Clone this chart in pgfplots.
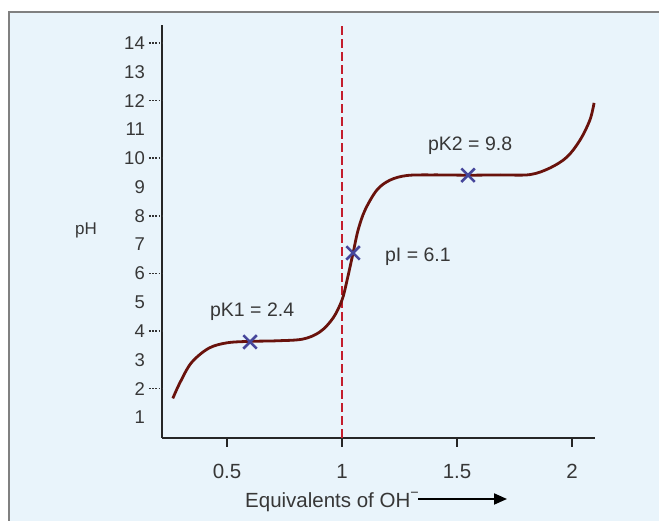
\documentclass[border=0pt]{standalone}
\usepackage{pgfplots}
\pgfplotsset{compat=1.18}
\usepackage{fontspec}
\setmainfont{Liberation Sans}
\usetikzlibrary{arrows.meta}

\definecolor{bgblue}{RGB}{233,244,251}
\definecolor{curvecol}{RGB}{105,18,12}
\definecolor{eqcol}{RGB}{196,30,45}
\definecolor{markcol}{RGB}{70,70,155}
\definecolor{txt}{RGB}{55,55,55}

\begin{document}
\begin{tikzpicture}
  % frame and background (1px = 1pt, axis corner at origin)
  \path[use as bounding box] (-162pt,-83pt) rectangle (497pt,438pt);
  \fill[bgblue] (-153pt,-83pt) rectangle (497pt,426pt);
  \draw[gray, line width=2pt] (-153pt,-83pt) -- (-153pt,426pt) -- (497pt,426pt);

  \begin{axis}[
      at={(0pt,0pt)}, anchor=south west,
      scale only axis,
      width=433pt, height=413pt,
      xmin=0.217, xmax=2.1,
      ymin=0.285, ymax=14.625,
      axis x line=bottom, axis y line=left,
      axis line style={-, line width=1.8pt, black!85},
      clip=false,
      /pgf/number format/assume math mode=true,
      xtick={0.5,1,1.5,2},
      xtick align=outside,
      x tick style={black!85, line width=1.8pt},
      major tick length=9pt,
      xticklabel style={font=\fontsize{20.5}{24}\selectfont, text=txt, anchor=base, yshift=-32pt},
      ytick={1,...,14},
      ytick align=inside,
      y tick style={draw=none},
      yticklabel style={font=\fontsize{18.5}{22}\selectfont, text=txt, anchor=east, inner sep=0pt, xshift=-17pt},
      extra y ticks={2,4,...,14},
      extra y tick labels={},
      extra y tick style={ytick align=outside, major tick length=13pt,
        y tick style={draw=black!80, line width=1.5pt, dash pattern=on 1.6pt off 1.6pt}},
  ]
  % equivalence point
  \addplot[eqcol, line width=2.6pt, dash pattern=on 9pt off 4pt] coordinates {
      (1,0.285) (1,14.69)
  };

  % titration curve
  \addplot[curvecol, line width=2.8pt, smooth, tension=0.55] coordinates {
      (0.264,1.66) (0.296,2.22) (0.345,2.90) (0.42,3.40) (0.50,3.59)
      (0.60,3.64) (0.717,3.66) (0.83,3.72) (0.904,3.97) (0.961,4.45)
      (1.0,5.08) (1.022,5.77) (1.048,6.71) (1.07,7.51) (1.10,8.20)
      (1.152,8.90) (1.209,9.24) (1.283,9.40) (1.40,9.42) (1.548,9.41)
      (1.687,9.42) (1.817,9.43) (1.904,9.66) (1.978,10.04) (2.035,10.63)
      (2.078,11.33) (2.096,11.92)
  };

  % pK and pI marks
  \addplot[only marks, mark=x, mark size=9.5pt, mark options={markcol, line width=2.6pt}] coordinates {
      (0.60,3.62) (1.048,6.71) (1.548,9.41)
  };

  \node[anchor=base, text=txt, font=\fontsize{19.5}{23}\selectfont] at (axis cs:0.609,4.52) {pK1 = 2.4};
  \node[anchor=base, text=txt, font=\fontsize{19.5}{23}\selectfont] at (axis cs:1.330,6.40) {pI = 6.1};
  \node[anchor=base, text=txt, font=\fontsize{19.5}{23}\selectfont] at (axis cs:1.557,10.28) {pK2 = 9.8};
  \end{axis}

  \node[anchor=base, text=txt, font=\fontsize{17}{20}\selectfont] at (-76pt,203pt) {pH};
  \node[anchor=base west, inner sep=0pt, text=txt, font=\fontsize{20.5}{24}\selectfont] at (83pt,-70pt) {Equivalents of OH\raisebox{3pt}{\textsuperscript{−}}};
  \draw[black, line width=2pt, -{Triangle[length=13pt, width=11pt]}] (256pt,-61pt) -- (345pt,-61pt);
\end{tikzpicture}
\end{document}
